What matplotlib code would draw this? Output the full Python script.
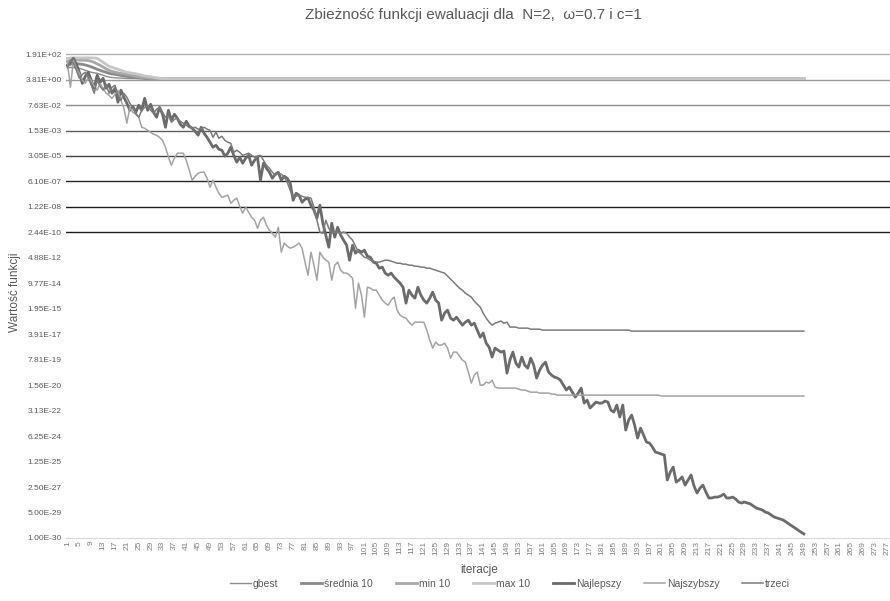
"""Convergence of the evaluation function for N=2, omega=0.7, c=1."""

import matplotlib
matplotlib.use("Agg")
import matplotlib.pyplot as plt
import numpy as np
from matplotlib.ticker import NullLocator

plt.rcParams['font.family'] = ['Liberation Sans', 'DejaVu Sans']

TITLE = 'Zbieżność funkcji ewaluacji dla  N=2,  ω=0.7 i c=1'

# log10 of the function value, one entry per iteration (1..249)
gbest_log10 = [
    1.33, 1.40, 1.38, 1.35, 1.33, 1.27, 1.20, 1.13, 1.07, 1.03,
    1.00, 0.93, 0.87, 0.80, 0.75, 0.72, 0.70, 0.69, 0.68, 0.67,
    0.66, 0.65, 0.65, 0.65, 0.65, 0.65, 0.65, 0.65, 0.65, 0.65,
    0.65, 0.65, 0.65, 0.65, 0.65, 0.65, 0.65, 0.65, 0.65, 0.65,
    0.65, 0.65, 0.65, 0.65, 0.65, 0.65, 0.65, 0.65, 0.65, 0.65,
    0.65, 0.65, 0.65, 0.65, 0.65, 0.65, 0.65, 0.65, 0.65, 0.65,
    0.65, 0.65, 0.65, 0.65, 0.65, 0.65, 0.65, 0.65, 0.65, 0.65,
    0.65, 0.65, 0.65, 0.65, 0.65, 0.65, 0.65, 0.65, 0.65, 0.65,
    0.65, 0.65, 0.65, 0.65, 0.65, 0.65, 0.65, 0.65, 0.65, 0.65,
    0.65, 0.65, 0.65, 0.65, 0.65, 0.65, 0.65, 0.65, 0.65, 0.65,
    0.65, 0.65, 0.65, 0.65, 0.65, 0.65, 0.65, 0.65, 0.65, 0.65,
    0.65, 0.65, 0.65, 0.65, 0.65, 0.65, 0.65, 0.65, 0.65, 0.65,
    0.65, 0.65, 0.65, 0.65, 0.65, 0.65, 0.65, 0.65, 0.65, 0.65,
    0.65, 0.65, 0.65, 0.65, 0.65, 0.65, 0.65, 0.65, 0.65, 0.65,
    0.65, 0.65, 0.65, 0.65, 0.65, 0.65, 0.65, 0.65, 0.65, 0.65,
    0.65, 0.65, 0.65, 0.65, 0.65, 0.65, 0.65, 0.65, 0.65, 0.65,
    0.65, 0.65, 0.65, 0.65, 0.65, 0.65, 0.65, 0.65, 0.65, 0.65,
    0.65, 0.65, 0.65, 0.65, 0.65, 0.65, 0.65, 0.65, 0.65, 0.65,
    0.65, 0.65, 0.65, 0.65, 0.65, 0.65, 0.65, 0.65, 0.65, 0.65,
    0.65, 0.65, 0.65, 0.65, 0.65, 0.65, 0.65, 0.65, 0.65, 0.65,
    0.65, 0.65, 0.65, 0.65, 0.65, 0.65, 0.65, 0.65, 0.65, 0.65,
    0.65, 0.65, 0.65, 0.65, 0.65, 0.65, 0.65, 0.65, 0.65, 0.65,
    0.65, 0.65, 0.65, 0.65, 0.65, 0.65, 0.65, 0.65, 0.65, 0.65,
    0.65, 0.65, 0.65, 0.65, 0.65, 0.65, 0.65, 0.65, 0.65, 0.65,
    0.65, 0.65, 0.65, 0.65, 0.65, 0.65, 0.65, 0.65, 0.65,
]

srednia10_log10 = [
    1.53, 1.60, 1.67, 1.65, 1.62, 1.60, 1.55, 1.50, 1.43, 1.35,
    1.27, 1.20, 1.13, 1.07, 1.00, 0.96, 0.93, 0.90, 0.86, 0.83,
    0.80, 0.77, 0.74, 0.71, 0.69, 0.67, 0.65, 0.65, 0.65, 0.65,
    0.65, 0.65, 0.65, 0.65, 0.65, 0.65, 0.65, 0.65, 0.65, 0.65,
    0.65, 0.65, 0.65, 0.65, 0.65, 0.65, 0.65, 0.65, 0.65, 0.65,
    0.65, 0.65, 0.65, 0.65, 0.65, 0.65, 0.65, 0.65, 0.65, 0.65,
    0.65, 0.65, 0.65, 0.65, 0.65, 0.65, 0.65, 0.65, 0.65, 0.65,
    0.65, 0.65, 0.65, 0.65, 0.65, 0.65, 0.65, 0.65, 0.65, 0.65,
    0.65, 0.65, 0.65, 0.65, 0.65, 0.65, 0.65, 0.65, 0.65, 0.65,
    0.65, 0.65, 0.65, 0.65, 0.65, 0.65, 0.65, 0.65, 0.65, 0.65,
    0.65, 0.65, 0.65, 0.65, 0.65, 0.65, 0.65, 0.65, 0.65, 0.65,
    0.65, 0.65, 0.65, 0.65, 0.65, 0.65, 0.65, 0.65, 0.65, 0.65,
    0.65, 0.65, 0.65, 0.65, 0.65, 0.65, 0.65, 0.65, 0.65, 0.65,
    0.65, 0.65, 0.65, 0.65, 0.65, 0.65, 0.65, 0.65, 0.65, 0.65,
    0.65, 0.65, 0.65, 0.65, 0.65, 0.65, 0.65, 0.65, 0.65, 0.65,
    0.65, 0.65, 0.65, 0.65, 0.65, 0.65, 0.65, 0.65, 0.65, 0.65,
    0.65, 0.65, 0.65, 0.65, 0.65, 0.65, 0.65, 0.65, 0.65, 0.65,
    0.65, 0.65, 0.65, 0.65, 0.65, 0.65, 0.65, 0.65, 0.65, 0.65,
    0.65, 0.65, 0.65, 0.65, 0.65, 0.65, 0.65, 0.65, 0.65, 0.65,
    0.65, 0.65, 0.65, 0.65, 0.65, 0.65, 0.65, 0.65, 0.65, 0.65,
    0.65, 0.65, 0.65, 0.65, 0.65, 0.65, 0.65, 0.65, 0.65, 0.65,
    0.65, 0.65, 0.65, 0.65, 0.65, 0.65, 0.65, 0.65, 0.65, 0.65,
    0.65, 0.65, 0.65, 0.65, 0.65, 0.65, 0.65, 0.65, 0.65, 0.65,
    0.65, 0.65, 0.65, 0.65, 0.65, 0.65, 0.65, 0.65, 0.65, 0.65,
    0.65, 0.65, 0.65, 0.65, 0.65, 0.65, 0.65, 0.65, 0.65,
]

min10_log10 = [
    1.80, 1.87, 1.90, 1.90, 1.88, 1.87, 1.87, 1.85, 1.80, 1.73,
    1.63, 1.53, 1.42, 1.30, 1.20, 1.13, 1.08, 1.03, 0.99, 0.96,
    0.93, 0.89, 0.85, 0.81, 0.77, 0.74, 0.72, 0.70, 0.68, 0.67,
    0.66, 0.65, 0.65, 0.65, 0.65, 0.65, 0.65, 0.65, 0.65, 0.65,
    0.65, 0.65, 0.65, 0.65, 0.65, 0.65, 0.65, 0.65, 0.65, 0.65,
    0.65, 0.65, 0.65, 0.65, 0.65, 0.65, 0.65, 0.65, 0.65, 0.65,
    0.65, 0.65, 0.65, 0.65, 0.65, 0.65, 0.65, 0.65, 0.65, 0.65,
    0.65, 0.65, 0.65, 0.65, 0.65, 0.65, 0.65, 0.65, 0.65, 0.65,
    0.65, 0.65, 0.65, 0.65, 0.65, 0.65, 0.65, 0.65, 0.65, 0.65,
    0.65, 0.65, 0.65, 0.65, 0.65, 0.65, 0.65, 0.65, 0.65, 0.65,
    0.65, 0.65, 0.65, 0.65, 0.65, 0.65, 0.65, 0.65, 0.65, 0.65,
    0.65, 0.65, 0.65, 0.65, 0.65, 0.65, 0.65, 0.65, 0.65, 0.65,
    0.65, 0.65, 0.65, 0.65, 0.65, 0.65, 0.65, 0.65, 0.65, 0.65,
    0.65, 0.65, 0.65, 0.65, 0.65, 0.65, 0.65, 0.65, 0.65, 0.65,
    0.65, 0.65, 0.65, 0.65, 0.65, 0.65, 0.65, 0.65, 0.65, 0.65,
    0.65, 0.65, 0.65, 0.65, 0.65, 0.65, 0.65, 0.65, 0.65, 0.65,
    0.65, 0.65, 0.65, 0.65, 0.65, 0.65, 0.65, 0.65, 0.65, 0.65,
    0.65, 0.65, 0.65, 0.65, 0.65, 0.65, 0.65, 0.65, 0.65, 0.65,
    0.65, 0.65, 0.65, 0.65, 0.65, 0.65, 0.65, 0.65, 0.65, 0.65,
    0.65, 0.65, 0.65, 0.65, 0.65, 0.65, 0.65, 0.65, 0.65, 0.65,
    0.65, 0.65, 0.65, 0.65, 0.65, 0.65, 0.65, 0.65, 0.65, 0.65,
    0.65, 0.65, 0.65, 0.65, 0.65, 0.65, 0.65, 0.65, 0.65, 0.65,
    0.65, 0.65, 0.65, 0.65, 0.65, 0.65, 0.65, 0.65, 0.65, 0.65,
    0.65, 0.65, 0.65, 0.65, 0.65, 0.65, 0.65, 0.65, 0.65, 0.65,
    0.65, 0.65, 0.65, 0.65, 0.65, 0.65, 0.65, 0.65, 0.65,
]

max10_log10 = [
    2.00, 2.02, 2.03, 2.03, 2.03, 2.03, 2.03, 2.03, 2.03, 2.02,
    2.00, 1.87, 1.73, 1.60, 1.47, 1.40, 1.33, 1.27, 1.20, 1.13,
    1.07, 1.03, 1.00, 0.97, 0.93, 0.87, 0.83, 0.80, 0.77, 0.73,
    0.70, 0.67, 0.65, 0.65, 0.65, 0.65, 0.65, 0.65, 0.65, 0.65,
    0.65, 0.65, 0.65, 0.65, 0.65, 0.65, 0.65, 0.65, 0.65, 0.65,
    0.65, 0.65, 0.65, 0.65, 0.65, 0.65, 0.65, 0.65, 0.65, 0.65,
    0.65, 0.65, 0.65, 0.65, 0.65, 0.65, 0.65, 0.65, 0.65, 0.65,
    0.65, 0.65, 0.65, 0.65, 0.65, 0.65, 0.65, 0.65, 0.65, 0.65,
    0.65, 0.65, 0.65, 0.65, 0.65, 0.65, 0.65, 0.65, 0.65, 0.65,
    0.65, 0.65, 0.65, 0.65, 0.65, 0.65, 0.65, 0.65, 0.65, 0.65,
    0.65, 0.65, 0.65, 0.65, 0.65, 0.65, 0.65, 0.65, 0.65, 0.65,
    0.65, 0.65, 0.65, 0.65, 0.65, 0.65, 0.65, 0.65, 0.65, 0.65,
    0.65, 0.65, 0.65, 0.65, 0.65, 0.65, 0.65, 0.65, 0.65, 0.65,
    0.65, 0.65, 0.65, 0.65, 0.65, 0.65, 0.65, 0.65, 0.65, 0.65,
    0.65, 0.65, 0.65, 0.65, 0.65, 0.65, 0.65, 0.65, 0.65, 0.65,
    0.65, 0.65, 0.65, 0.65, 0.65, 0.65, 0.65, 0.65, 0.65, 0.65,
    0.65, 0.65, 0.65, 0.65, 0.65, 0.65, 0.65, 0.65, 0.65, 0.65,
    0.65, 0.65, 0.65, 0.65, 0.65, 0.65, 0.65, 0.65, 0.65, 0.65,
    0.65, 0.65, 0.65, 0.65, 0.65, 0.65, 0.65, 0.65, 0.65, 0.65,
    0.65, 0.65, 0.65, 0.65, 0.65, 0.65, 0.65, 0.65, 0.65, 0.65,
    0.65, 0.65, 0.65, 0.65, 0.65, 0.65, 0.65, 0.65, 0.65, 0.65,
    0.65, 0.65, 0.65, 0.65, 0.65, 0.65, 0.65, 0.65, 0.65, 0.65,
    0.65, 0.65, 0.65, 0.65, 0.65, 0.65, 0.65, 0.65, 0.65, 0.65,
    0.65, 0.65, 0.65, 0.65, 0.65, 0.65, 0.65, 0.65, 0.65, 0.65,
    0.65, 0.65, 0.65, 0.65, 0.65, 0.65, 0.65, 0.65, 0.65,
]

najlepszy_log10 = [
    1.53, 1.73, 2.00, 1.60, 1.07, 0.33, 0.80, 1.07, 0.53, 0.00,
    0.87, 0.40, 0.67, 0.00, 0.27, -0.33, 0.00, -0.93, -0.13, -0.60,
    -1.00, -1.47, -1.20, -1.60, -1.13, -1.47, -0.67, -1.47, -1.07, -1.60,
    -1.93, -1.27, -1.73, -2.60, -1.47, -2.13, -1.73, -2.00, -2.40, -2.60,
    -2.20, -2.53, -2.67, -2.87, -3.13, -2.60, -3.00, -3.27, -3.60, -3.93,
    -3.80, -4.07, -4.13, -4.53, -4.33, -3.93, -4.47, -4.93, -4.60, -5.00,
    -4.67, -4.47, -5.13, -4.80, -4.60, -6.13, -5.00, -5.33, -5.60, -6.00,
    -5.73, -5.60, -6.13, -5.87, -6.00, -6.33, -7.47, -7.00, -7.13, -7.60,
    -7.40, -7.33, -7.80, -8.13, -8.67, -7.80, -9.00, -9.80, -10.60, -9.00,
    -9.93, -9.27, -9.80, -10.13, -10.47, -11.47, -10.47, -11.00, -10.80, -10.93,
    -10.80, -11.20, -11.27, -11.60, -11.67, -12.00, -11.93, -12.33, -12.47, -12.33,
    -12.60, -12.80, -13.00, -13.27, -14.33, -13.47, -13.80, -14.00, -13.27, -13.80,
    -14.13, -14.33, -14.00, -13.60, -14.13, -14.33, -15.47, -15.00, -14.80, -15.33,
    -15.47, -15.27, -15.53, -15.80, -15.60, -15.47, -15.80, -15.67, -16.13, -16.60,
    -16.33, -17.00, -17.27, -17.93, -17.33, -17.47, -17.60, -17.53, -19.00, -18.13,
    -17.60, -18.33, -18.60, -17.93, -18.47, -18.67, -18.00, -18.47, -19.33, -18.80,
    -18.47, -18.27, -18.93, -19.13, -19.27, -19.33, -19.47, -19.80, -20.13, -19.93,
    -20.27, -20.60, -20.33, -20.00, -21.00, -20.80, -21.33, -21.13, -20.93, -21.00,
    -21.00, -20.87, -20.93, -21.47, -21.60, -21.13, -21.93, -21.13, -22.80, -22.13,
    -21.80, -22.47, -23.33, -22.67, -23.13, -23.60, -23.67, -23.93, -24.27, -24.33,
    -24.40, -24.47, -26.13, -25.60, -25.27, -26.27, -26.13, -25.93, -26.47, -26.13,
    -25.80, -26.53, -27.00, -26.67, -26.47, -26.93, -27.33, -27.33, -27.27, -27.27,
    -27.20, -27.07, -27.33, -27.33, -27.27, -27.40, -27.60, -27.67, -27.60, -27.67,
    -27.73, -27.87, -28.00, -28.07, -28.13, -28.27, -28.33, -28.47, -28.60, -28.67,
    -28.73, -28.80, -28.93, -29.07, -29.20, -29.33, -29.47, -29.60, -29.73,
]

najszybszy_log10 = [
    1.67, 0.07, 1.87, 1.33, 1.00, 0.53, 0.33, 0.73, 0.53, 0.13,
    -0.13, 0.33, 0.00, -0.33, -0.47, -0.67, -0.40, -0.13, -0.80, -1.33,
    -2.33, -1.27, -1.60, -1.73, -1.93, -2.60, -2.67, -2.80, -2.93, -3.07,
    -3.13, -3.27, -3.47, -3.93, -4.60, -5.13, -4.67, -4.33, -4.33, -4.33,
    -4.80, -5.47, -6.13, -5.87, -5.67, -5.60, -5.60, -6.00, -6.60, -6.13,
    -6.60, -7.00, -7.27, -7.20, -7.13, -7.67, -7.47, -7.33, -7.87, -8.33,
    -7.93, -8.27, -8.60, -8.80, -9.33, -8.80, -8.60, -9.13, -9.47, -9.67,
    -9.93, -9.27, -10.93, -10.33, -10.53, -10.67, -10.60, -10.47, -10.33, -10.67,
    -11.60, -12.47, -10.93, -11.80, -12.80, -10.93, -11.27, -11.47, -11.60, -12.80,
    -11.80, -11.60, -12.13, -12.33, -12.33, -12.47, -12.67, -14.67, -13.00, -13.80,
    -15.27, -13.27, -13.33, -13.47, -13.47, -13.80, -14.13, -14.33, -14.47, -14.13,
    -13.93, -14.80, -15.13, -15.27, -15.33, -15.60, -15.80, -15.60, -15.60, -15.60,
    -15.60, -16.13, -16.80, -17.33, -16.93, -17.13, -17.13, -17.00, -17.33, -18.00,
    -17.60, -17.60, -17.87, -18.13, -18.27, -18.93, -19.67, -19.13, -18.93, -19.80,
    -19.80, -19.60, -19.67, -19.47, -19.93, -20.00, -20.00, -20.00, -20.00, -20.00,
    -20.00, -20.00, -20.07, -20.13, -20.13, -20.20, -20.27, -20.27, -20.27, -20.33,
    -20.33, -20.33, -20.33, -20.40, -20.40, -20.47, -20.47, -20.47, -20.47, -20.47,
    -20.47, -20.47, -20.47, -20.47, -20.47, -20.47, -20.47, -20.47, -20.47, -20.47,
    -20.47, -20.47, -20.47, -20.47, -20.47, -20.47, -20.47, -20.47, -20.47, -20.47,
    -20.47, -20.47, -20.47, -20.47, -20.47, -20.47, -20.47, -20.47, -20.47, -20.47,
    -20.53, -20.53, -20.53, -20.53, -20.53, -20.53, -20.53, -20.53, -20.53, -20.53,
    -20.53, -20.53, -20.53, -20.53, -20.53, -20.53, -20.53, -20.53, -20.53, -20.53,
    -20.53, -20.53, -20.53, -20.53, -20.53, -20.53, -20.53, -20.53, -20.53, -20.53,
    -20.53, -20.53, -20.53, -20.53, -20.53, -20.53, -20.53, -20.53, -20.53, -20.53,
    -20.53, -20.53, -20.53, -20.53, -20.53, -20.53, -20.53, -20.53, -20.53,
]

trzeci_log10 = [
    1.40, 1.87, 1.67, 1.20, 0.67, 0.93, 1.07, 0.73, 0.20, -0.33,
    0.53, 0.13, -0.13, 0.27, -0.33, 0.07, 0.20, -0.47, -0.80, -0.33,
    -0.60, -1.00, -1.27, -1.67, -1.93, -1.47, -1.27, -1.13, -1.47, -1.67,
    -1.40, -1.27, -1.60, -1.93, -1.80, -2.27, -2.07, -2.00, -2.20, -2.33,
    -2.47, -2.60, -2.67, -2.60, -2.73, -2.67, -2.60, -2.73, -2.80, -3.27,
    -2.93, -3.33, -3.20, -3.47, -3.60, -3.67, -4.27, -4.13, -4.27, -4.47,
    -4.40, -4.33, -4.47, -4.60, -4.53, -4.47, -4.80, -5.13, -5.33, -5.60,
    -5.80, -5.67, -5.73, -5.93, -6.27, -6.80, -7.27, -7.20, -7.13, -7.20,
    -7.27, -7.27, -7.33, -7.93, -8.80, -9.60, -9.67, -8.80, -9.33, -9.67,
    -9.60, -9.60, -9.67, -9.60, -9.67, -9.93, -10.13, -10.53, -10.93, -11.07,
    -11.27, -11.33, -11.47, -11.53, -11.60, -11.60, -11.53, -11.47, -11.47, -11.53,
    -11.60, -11.67, -11.67, -11.73, -11.73, -11.80, -11.80, -11.87, -11.87, -11.93,
    -11.93, -12.00, -12.00, -12.07, -12.13, -12.20, -12.27, -12.33, -12.53, -12.73,
    -12.93, -13.13, -13.33, -13.47, -13.67, -13.80, -13.93, -14.20, -14.40, -14.60,
    -15.00, -15.33, -15.60, -15.80, -15.67, -15.60, -15.53, -15.67, -15.60, -15.93,
    -15.93, -15.93, -16.00, -16.00, -16.00, -16.00, -16.07, -16.07, -16.07, -16.07,
    -16.13, -16.13, -16.13, -16.13, -16.13, -16.13, -16.13, -16.13, -16.13, -16.13,
    -16.13, -16.13, -16.13, -16.13, -16.13, -16.13, -16.13, -16.13, -16.13, -16.13,
    -16.13, -16.13, -16.13, -16.13, -16.13, -16.13, -16.13, -16.13, -16.13, -16.13,
    -16.20, -16.20, -16.20, -16.20, -16.20, -16.20, -16.20, -16.20, -16.20, -16.20,
    -16.20, -16.20, -16.20, -16.20, -16.20, -16.20, -16.20, -16.20, -16.20, -16.20,
    -16.20, -16.20, -16.20, -16.20, -16.20, -16.20, -16.20, -16.20, -16.20, -16.20,
    -16.20, -16.20, -16.20, -16.20, -16.20, -16.20, -16.20, -16.20, -16.20, -16.20,
    -16.20, -16.20, -16.20, -16.20, -16.20, -16.20, -16.20, -16.20, -16.20, -16.20,
    -16.20, -16.20, -16.20, -16.20, -16.20, -16.20, -16.20, -16.20, -16.20,
]

series_names = ['gbest', 'średnia 10', 'min 10', 'max 10',
                'Najlepszy', 'Najszybszy', 'trzeci']
series_data = [gbest_log10, srednia10_log10, min10_log10, max10_log10,
               najlepszy_log10, najszybszy_log10, trzeci_log10]
series_colors = ['#8c8c8c', '#8a8a8a', '#a8a8a8', '#c6c6c6',
                 '#6b6b6b', '#a3a3a3', '#7b7b7b']
series_widths = [1.0, 2.0, 2.0, 2.0, 2.0, 1.1, 1.1]

# Excel-style log axis with base 50 starting at 1e-30
Y_MIN = 1e-30
BASE = 50
N_TICKS = 20
# horizontal grid lines only for the upper levels, darkening downwards
grid_levels = [19, 18, 17, 16, 15, 14, 13, 12]
grid_colors = ['#b0b0b0', '#9a9a9a', '#8c8c8c', '#5e5e5e',
               '#444444', '#262626', '#1e1e1e', '#1e1e1e']

fig = plt.figure(figsize=(8.9, 6.01), dpi=100)
ax = fig.add_axes([66 / 890, 63 / 601, 824 / 890, 490 / 601])
ax.set_yscale('log', base=BASE)
ax.set_xlim(0.5, 278.0)
ax.set_ylim(Y_MIN, Y_MIN * BASE ** 19.24)

for level, color in zip(grid_levels, grid_colors):
    ax.axhline(Y_MIN * BASE ** level, color=color, lw=1.0, zorder=1)

for name, vals, color, lw in zip(series_names, series_data,
                                 series_colors, series_widths):
    x = np.arange(1, len(vals) + 1)
    ax.plot(x, 10.0 ** np.array(vals), color=color, lw=lw, label=name,
            solid_joinstyle='round', zorder=3)

yticks = [Y_MIN * BASE ** k for k in range(N_TICKS)]
ax.set_yticks(yticks)
ax.set_yticklabels([f'{v:.2E}' for v in yticks])
ax.yaxis.set_minor_locator(NullLocator())

xticks = np.arange(1, 278, 4)
ax.set_xticks(xticks)
ax.set_xticklabels([str(t) for t in xticks], rotation=90)

ax.tick_params(axis='both', length=0)
ax.tick_params(axis='y', labelsize=6, labelcolor='#595959', pad=3)
ax.tick_params(axis='x', labelsize=6, labelcolor='#7f7f7f', pad=2)

for side in ('left', 'right', 'top'):
    ax.spines[side].set_visible(False)
ax.spines['bottom'].set_color('#d9d9d9')
ax.spines['bottom'].set_linewidth(0.8)

fig.text(473 / 890, 1 - 15 / 601, TITLE, ha='center', va='center',
         fontsize=11, color='#595959')
fig.text(15 / 890, 1 - 292 / 601, 'Wartość funkcji', rotation=90,
         ha='center', va='center', fontsize=8.5, color='#595959')
fig.text(479 / 890, 1 - 570 / 601, 'iteracje', ha='center', va='center',
         fontsize=8.5, color='#595959')

handles, labels = ax.get_legend_handles_labels()
fig.legend(handles, labels, loc='center', bbox_to_anchor=(510 / 890, 1 - 584 / 601),
           ncol=7, frameon=False, fontsize=7.5, handlelength=2.0,
           handletextpad=0.2, columnspacing=2.2, labelcolor='#595959')

fig.savefig('out.png', dpi=100)
